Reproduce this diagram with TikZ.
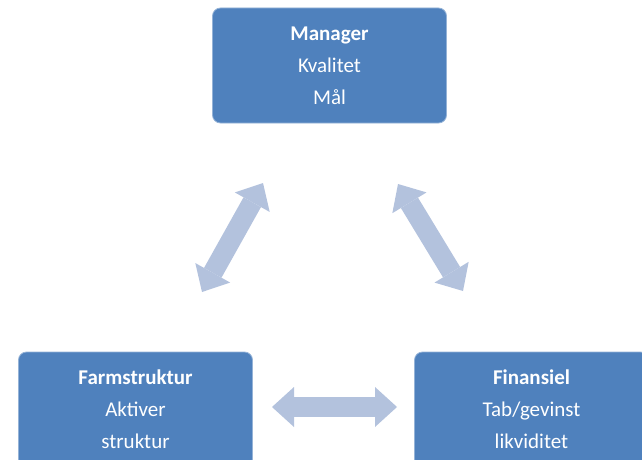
\documentclass[tikz,border=0pt]{standalone}
\usepackage{fontspec}
\setmainfont{Carlito}
\usetikzlibrary{arrows.meta}
\definecolor{boxblue}{HTML}{4F81BD}
\definecolor{arrowblue}{HTML}{B3C2DD}
\tikzset{
  box/.style={rectangle, rounded corners=8pt, fill=boxblue, draw=boxblue!60!white, line width=0.8pt,
    minimum width=234pt, minimum height=115pt, inner sep=0pt, text=white, align=center,
    font=\fontsize{21}{32}\selectfont},
  blockarrow/.style={arrowblue, line width=20pt,
    {Triangle[width=40pt,length=22pt,line width=0pt]}-{Triangle[width=40pt,length=22pt,line width=0pt]}}
}
\begin{document}
\begin{tikzpicture}[x=1pt,y=-1pt]
\useasboundingbox (0,0) rectangle (642,460);
\clip (0,0) rectangle (642,460);
\node[box] (man) at (329.5,65.5) {\textbf{Manager}\\Kvalitet\\Mål};
\node[box] (farm) at (135.5,409.5) {\textbf{Farmstruktur}\\Aktiver\\struktur};
\node[box] (fin) at (531.5,409.5) {\textbf{Finansiel}\\Tab/gevinst\\likviditet};
\coordinate (l1) at (202,292);
\coordinate (l2) at (263,183);
\coordinate (r1) at (398,184);
\coordinate (r2) at (463,291);
\coordinate (h1) at (272,407);
\coordinate (h2) at (397,407);
\draw[blockarrow] (l1) -- (l2);
\draw[blockarrow] (r1) -- (r2);
\draw[blockarrow] (h1) -- (h2);
\end{tikzpicture}
\end{document}
